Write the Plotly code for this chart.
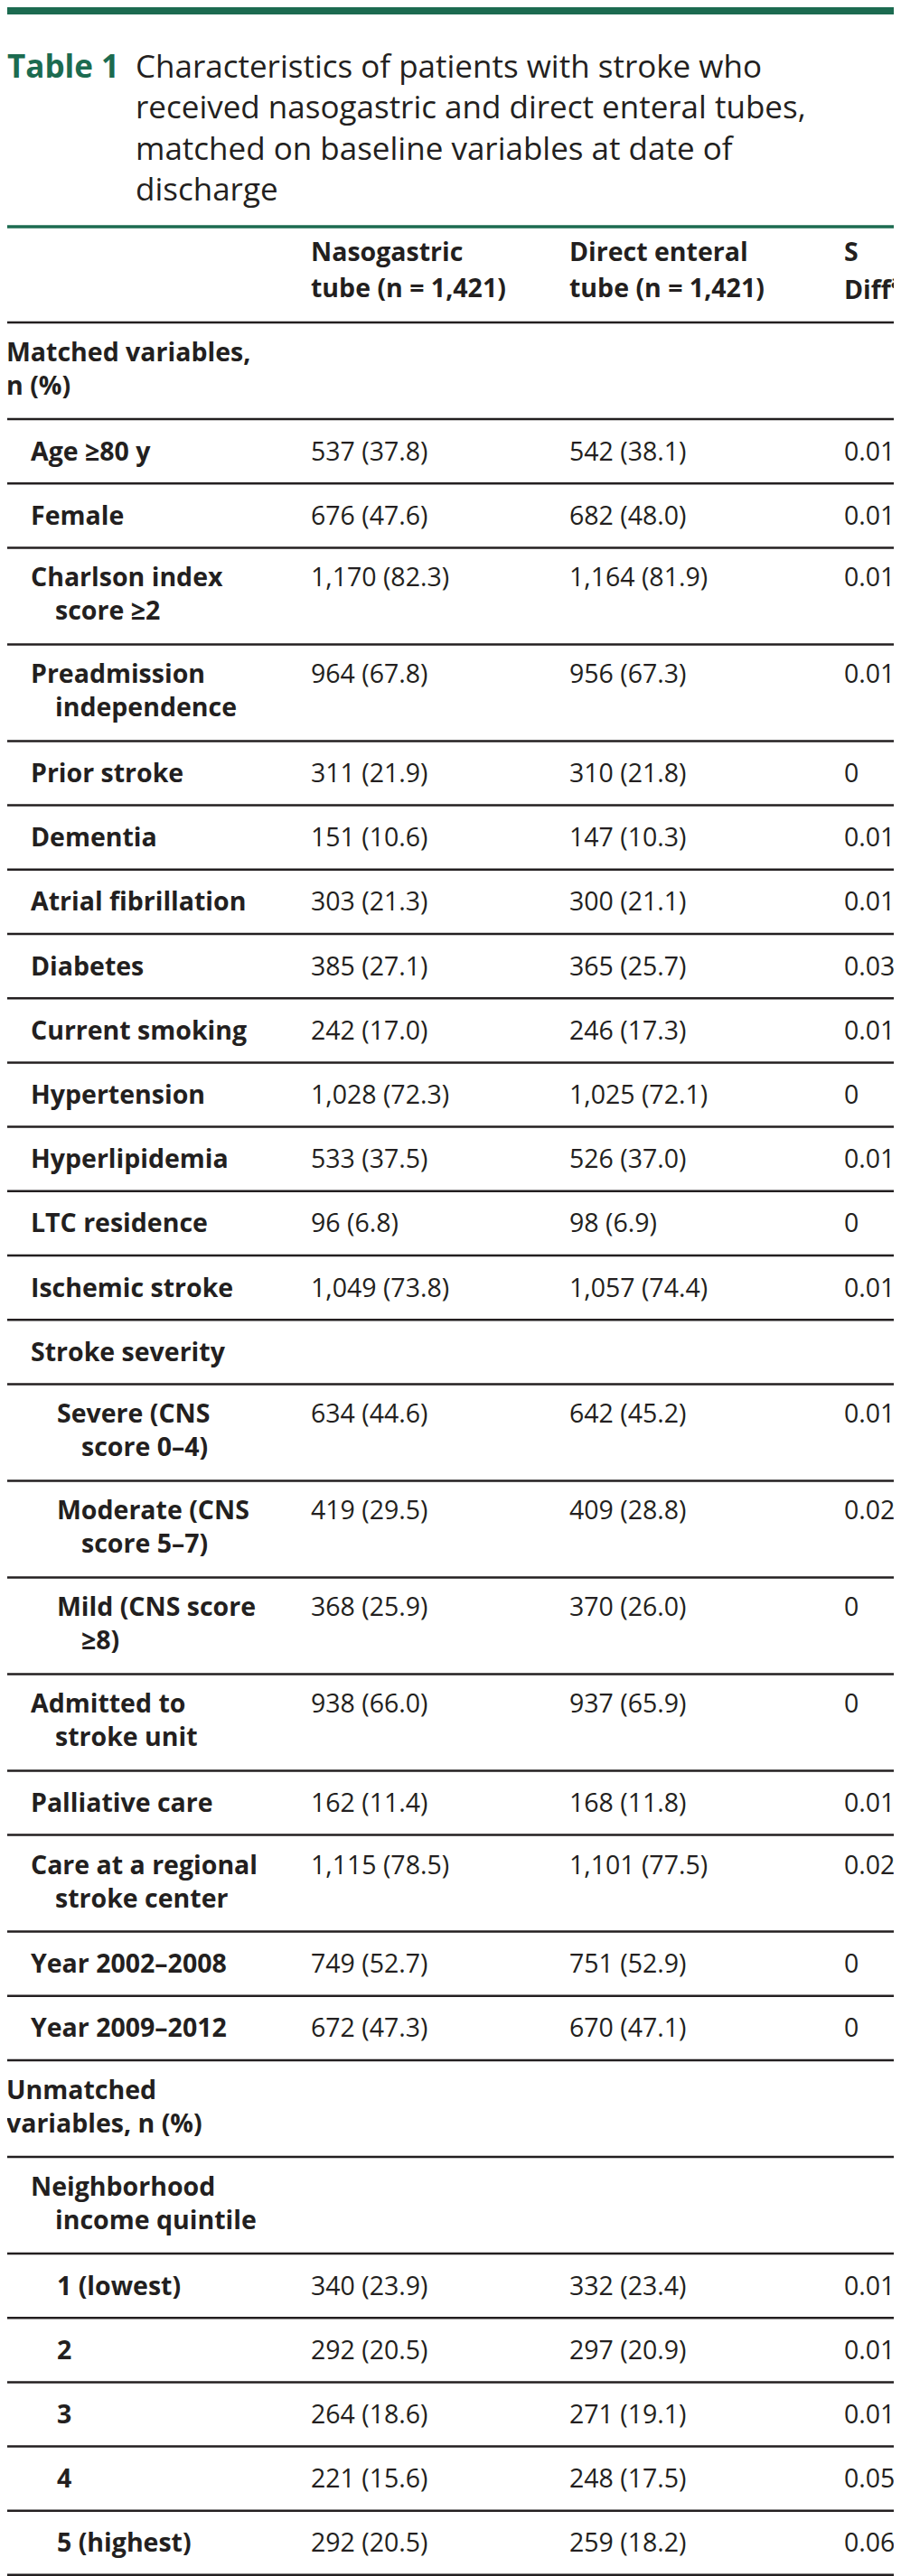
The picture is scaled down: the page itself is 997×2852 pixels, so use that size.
import plotly.graph_objects as go

# caption
table_no = "Table 1"
caption_lines = [
    "Characteristics of patients with stroke who",
    "received nasogastric and direct enteral tubes,",
    "matched on baseline variables at date of",
    "discharge",
]

# column headers
col_headers = [
    ["Nasogastric", "tube (n = 1,421)"],
    ["Direct enteral", "tube (n = 1,421)"],
    ["S", "Diff<sup>a</sup>"],
]

# rows: label lines, indent level
row_labels = [
    ["Matched variables,", "n (%)"],
    ["Age ≥80 y"],
    ["Female"],
    ["Charlson index", "score ≥2"],
    ["Preadmission", "independence"],
    ["Prior stroke"],
    ["Dementia"],
    ["Atrial fibrillation"],
    ["Diabetes"],
    ["Current smoking"],
    ["Hypertension"],
    ["Hyperlipidemia"],
    ["LTC residence"],
    ["Ischemic stroke"],
    ["Stroke severity"],
    ["Severe (CNS", "score 0–4)"],
    ["Moderate (CNS", "score 5–7)"],
    ["Mild (CNS score", "≥8)"],
    ["Admitted to", "stroke unit"],
    ["Palliative care"],
    ["Care at a regional", "stroke center"],
    ["Year 2002–2008"],
    ["Year 2009–2012"],
    ["Unmatched", "variables, n (%)"],
    ["Neighborhood", "income quintile"],
    ["1 (lowest)"],
    ["2"],
    ["3"],
    ["4"],
    ["5 (highest)"],
]
row_levels = [0, 1, 1, 1, 1, 1, 1, 1, 1, 1, 1, 1, 1, 1, 1, 2, 2, 2, 1, 1, 1, 1, 1, 0, 1, 2, 2, 2, 2, 2]

# nasogastric tube: n and %
ng_n = [None, 537, 676, 1170, 964, 311, 151, 303, 385, 242, 1028, 533, 96, 1049, None,
        634, 419, 368, 938, 162, 1115, 749, 672, None, None, 340, 292, 264, 221, 292]
ng_pct = [None, 37.8, 47.6, 82.3, 67.8, 21.9, 10.6, 21.3, 27.1, 17.0, 72.3, 37.5, 6.8, 73.8, None,
          44.6, 29.5, 25.9, 66.0, 11.4, 78.5, 52.7, 47.3, None, None, 23.9, 20.5, 18.6, 15.6, 20.5]

# direct enteral tube: n and %
de_n = [None, 542, 682, 1164, 956, 310, 147, 300, 365, 246, 1025, 526, 98, 1057, None,
        642, 409, 370, 937, 168, 1101, 751, 670, None, None, 332, 297, 271, 248, 259]
de_pct = [None, 38.1, 48.0, 81.9, 67.3, 21.8, 10.3, 21.1, 25.7, 17.3, 72.1, 37.0, 6.9, 74.4, None,
          45.2, 28.8, 26.0, 65.9, 11.8, 77.5, 52.9, 47.1, None, None, 23.4, 20.9, 19.1, 17.5, 18.2]

# standardized difference
s_diff = [None, 0.01, 0.01, 0.01, 0.01, 0, 0.01, 0.01, 0.03, 0.01, 0, 0.01, 0, 0.01, None,
          0.01, 0.02, 0, 0, 0.01, 0.02, 0, 0, None, None, 0.01, 0.01, 0.01, 0.05, 0.06]

W, H = 997, 2852
GREEN = "#1c6b50"
INK = "#231f20"
FONT = "Open Sans"
BODY = 28.5

fig = go.Figure()
# invisible trace so the axes exist
fig.add_trace(go.Scatter(x=[0, W], y=[0, H], mode="markers", marker_opacity=0,
                         hoverinfo="skip", showlegend=False))


def n_pct(n, p):
    if n is None:
        return ""
    return f"{n:,} ({p:.1f})"


def add_text(x, y, s, size=BODY, bold=False, color=INK):
    # annotation boxes are padded; anchor inside the axis range (plotly hides
    # anything outside it) and nudge left in pixels instead
    fig.add_annotation(
        x=max(x - 3, 0), y=y, xshift=-3, text=f"<b>{s}</b>" if bold else s,
        xref="x", yref="y", xanchor="left", yanchor="middle",
        showarrow=False, font=dict(family=FONT, size=size, color=color),
    )


def add_rule(y, width=2.5, color=INK):
    fig.add_shape(type="line", x0=0, x1=W, y0=y, y1=y, xref="x", yref="y",
                  line=dict(color=color, width=width))


# top bar and caption
fig.add_shape(type="rect", x0=0, x1=W, y0=0, y1=8, xref="x", yref="y",
              fillcolor=GREEN, line_width=0)
add_text(4, 64, table_no, size=35, bold=True, color=GREEN)
for i, line in enumerate(caption_lines):
    add_text(146, 64 + i * 45.5, line, size=35)

# header row
head_top, head_bot = 243, 349
add_rule(head_top, width=3.5, color=GREEN)
col_x = [340, 626, 930]
for cx, lines in zip(col_x, col_headers):
    for j, line in enumerate(lines):
        add_text(cx, 270 + j * 40, line, bold=True)
add_rule(head_bot)

# body rows
line_gap = 37
y = head_bot
for k, lines in enumerate(row_labels):
    h = 71.2 if len(lines) == 1 else 107
    mid = y + h / 2
    first = mid - 1 if len(lines) == 1 else mid - 3 - line_gap / 2
    lvl = row_levels[k]
    x0 = 1 + 29 * lvl
    for j, line in enumerate(lines):
        indent = 27 if (j > 0 and lvl > 0) else 0
        add_text(x0 + indent, first + j * line_gap, line, bold=True)
    cells = [n_pct(ng_n[k], ng_pct[k]), n_pct(de_n[k], de_pct[k]),
             "" if s_diff[k] is None else f"{s_diff[k]:g}"]
    for cx, c in zip(col_x, cells):
        if c:
            add_text(cx, first, c)
    y += h
    add_rule(y, width=3 if k == len(row_labels) - 1 else 2.5)

fig.update_xaxes(range=[0, W], visible=False, fixedrange=True)
fig.update_yaxes(range=[H, 0], visible=False, fixedrange=True)
fig.update_layout(
    width=W, height=H,
    margin=dict(l=0, r=0, t=0, b=0),
    plot_bgcolor="white", paper_bgcolor="white",
    showlegend=False,
)

fig.write_html("out.html")
